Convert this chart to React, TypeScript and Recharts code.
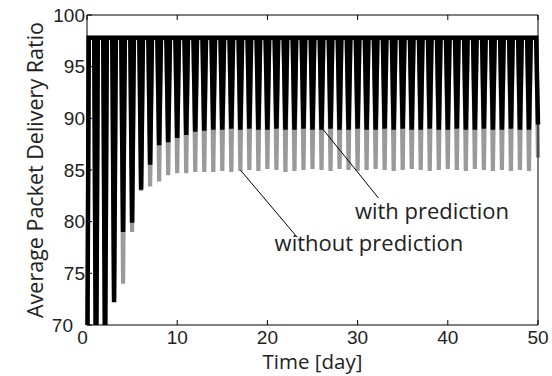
import React from 'react';
import { LineChart, Line, XAxis, YAxis, ReferenceLine, ReferenceDot, Label } from 'recharts';

// trough of each daily cycle, day 0..50
const troughDays = [
  0, 1, 2, 3, 4, 5, 6, 7, 8, 9, 10, 11, 12, 13, 14, 15, 16, 17, 18, 19, 20, 21, 22, 23, 24, 25,
  26, 27, 28, 29, 30, 31, 32, 33, 34, 35, 36, 37, 38, 39, 40, 41, 42, 43, 44, 45, 46, 47, 48, 49, 50,
];
const troughWith = [
  60, 62, 66, 72.2, 79.0, 79.9, 83.1, 85.5, 87.4, 87.7, 88.1, 88.4, 88.7, 88.8, 88.9, 88.9, 89.0,
  88.9, 89.0, 88.9, 88.9, 89.0, 88.9, 88.9, 89.0, 88.9, 88.9, 89.0, 88.9, 88.9, 89.0, 88.9, 88.9,
  89.0, 88.9, 89.0, 88.9, 88.9, 89.0, 88.9, 88.9, 89.0, 88.9, 88.9, 89.0, 88.9, 88.9, 89.0, 88.9,
  88.9, 89.4,
];
const troughWithout = [
  59, 61, 65, 72.5, 74.0, 79.0, 83.0, 83.4, 83.9, 84.5, 84.7, 84.7, 84.8, 84.8, 84.8, 84.9, 84.8,
  84.9, 85.0, 84.9, 85.1, 85.0, 84.8, 84.9, 85.0, 85.1, 85.0, 84.9, 85.1, 85.0, 84.9, 85.0, 85.1,
  85.0, 84.9, 85.0, 85.1, 85.0, 84.9, 85.0, 85.1, 85.0, 84.9, 85.1, 85.0, 84.9, 85.0, 84.9, 85.0,
  84.9, 86.2,
];
// plateau level between two troughs
const peakWith = [
  97.8, 97.8, 97.8, 97.8, 97.8, 97.8, 97.8, 97.8, 97.8, 97.8, 97.8, 97.8, 97.8, 97.8, 97.8, 97.8,
  97.8, 97.8, 97.8, 97.8, 97.8, 97.8, 97.8, 97.8, 97.8, 97.8, 97.8, 97.8, 97.8, 97.8, 97.8, 97.8,
  97.8, 97.8, 97.8, 97.8, 97.8, 97.8, 97.8, 97.8, 97.8, 97.8, 97.8, 97.8, 97.8, 97.8, 97.8, 97.8,
  97.8, 97.8,
];
const peakWithout = [
  97.8, 97.8, 97.8, 97.8, 97.8, 97.8, 97.8, 97.8, 97.8, 97.8, 97.8, 97.8, 97.8, 97.8, 97.8, 97.8,
  97.8, 97.8, 97.8, 97.8, 97.8, 97.8, 97.8, 97.8, 97.8, 97.8, 97.8, 97.8, 97.8, 97.8, 97.8, 97.8,
  97.8, 97.8, 97.8, 97.8, 97.8, 97.8, 97.8, 97.8, 97.8, 97.8, 97.8, 97.8, 97.8, 97.8, 97.8, 97.8,
  97.8, 97.8,
];
const xTicks = [0, 10, 20, 30, 40, 50];
const yTicks = [70, 75, 80, 85, 90, 95, 100];

// the dips are short, the rest of each day sits on the plateau
const data: { t: number; withPred: number; withoutPred: number }[] = [];
troughDays.forEach((d, i) => {
  data.push({ t: d, withPred: troughWith[i], withoutPred: troughWithout[i] });
  if (i < peakWith.length) {
    data.push({ t: d + 0.2, withPred: peakWith[i], withoutPred: peakWithout[i] });
    data.push({ t: d + 0.8, withPred: peakWith[i], withoutPred: peakWithout[i] });
  }
});

const tickFont = '"Liberation Sans", Arial, sans-serif';
const textFont = '"Open Sans", sans-serif';

const LeftTick = (props: any) => {
  const { x, y, payload } = props;
  const shift = payload.value === 70 ? 12 : 0;
  return (
    <g>
      <line x1={x} x2={x + 5} y1={y} y2={y} stroke="#000" />
      <text x={x - 2 - shift} y={y} dy={6.8} textAnchor="end" fontSize={19} fill="#222" fontFamily={tickFont}>
        {payload.value}
      </text>
    </g>
  );
};

const BottomTick = (props: any) => {
  const { x, y, payload } = props;
  const shift = payload.value === 0 ? 4.5 : 0;
  return (
    <g>
      <line x1={x} x2={x} y1={y} y2={y - 5} stroke="#000" />
      <text x={x - shift} y={y} dy={18.5} textAnchor="middle" fontSize={19} fill="#222" fontFamily={tickFont}>
        {payload.value}
      </text>
    </g>
  );
};

const TopTick = (props: any) => {
  const { x, y } = props;
  return <line x1={x} x2={x} y1={y} y2={y + 5} stroke="#000" />;
};

const RightTick = (props: any) => {
  const { x, y } = props;
  return <line x1={x} x2={x - 5} y1={y} y2={y} stroke="#000" />;
};

const note = (text: string) => (props: any) => {
  const { viewBox } = props;
  return (
    <text x={viewBox.x} y={viewBox.y} fontSize={22} fill="#222" fontFamily={textFont}>
      {text}
    </text>
  );
};

export default function App() {
  return (
    <div style={{ position: 'absolute', left: 0, top: 0, width: 552, height: 376, background: '#fff' }}>
      <LineChart width={552} height={376} data={data} margin={{ top: 0, right: 0, bottom: 0, left: 0 }}>
        <XAxis
          dataKey="t"
          type="number"
          domain={[0, 50]}
          ticks={xTicks}
          height={51}
          tickSize={0}
          tickMargin={0}
          tick={<BottomTick />}
          axisLine={{ stroke: '#000' }}
          tickLine={false}
        >
          <Label
            content={() => (
              <text x={312.5} y={369} textAnchor="middle" fontSize={20.5} fill="#222" fontFamily={textFont}>
                Time [day]
              </text>
            )}
          />
        </XAxis>
        <XAxis
          xAxisId="top"
          orientation="top"
          dataKey="t"
          type="number"
          domain={[0, 50]}
          ticks={xTicks}
          height={15}
          tickSize={0}
          tickMargin={0}
          tick={<TopTick />}
          axisLine={{ stroke: '#000' }}
          tickLine={false}
        />
        <YAxis
          type="number"
          domain={[70, 100]}
          ticks={yTicks}
          allowDataOverflow
          width={87}
          tickSize={0}
          tickMargin={0}
          tick={<LeftTick />}
          axisLine={{ stroke: '#000' }}
          tickLine={false}
        >
          <Label
            content={(p: any) => {
              const cy = p.viewBox.y + p.viewBox.height / 2;
              return (
                <text
                  x={36}
                  y={cy}
                  transform={`rotate(-90, 36, ${cy})`}
                  textAnchor="middle"
                  dy={7}
                  fontSize={21.5}
                  fill="#222"
                  fontFamily={textFont}
                >
                  Average Packet Delivery Ratio
                </text>
              );
            }}
          />
        </YAxis>
        <YAxis
          yAxisId="right"
          orientation="right"
          type="number"
          domain={[70, 100]}
          ticks={yTicks}
          width={14}
          tickSize={0}
          tickMargin={0}
          tick={<RightTick />}
          axisLine={{ stroke: '#000' }}
          tickLine={false}
        />
        <Line
          type="linear"
          dataKey="withoutPred"
          stroke="#9a9a9a"
          strokeWidth={4.2}
          dot={false}
          isAnimationActive={false}
        />
        <Line
          type="linear"
          dataKey="withPred"
          stroke="#000"
          strokeWidth={4.5}
          dot={false}
          isAnimationActive={false}
        />
        <ReferenceLine
          segment={[
            { x: 26.2, y: 88.9 },
            { x: 32.3, y: 82.3 },
          ]}
          stroke="#000"
          strokeWidth={1}
        />
        <ReferenceLine
          segment={[
            { x: 17.0, y: 85.0 },
            { x: 23.3, y: 78.5 },
          ]}
          stroke="#000"
          strokeWidth={1}
        />
        <ReferenceDot x={29.7} y={80.3} r={0} fill="none" stroke="none" label={note('with prediction')} />
        <ReferenceDot x={20.8} y={77.2} r={0} fill="none" stroke="none" label={note('without prediction')} />
      </LineChart>
    </div>
  );
}
